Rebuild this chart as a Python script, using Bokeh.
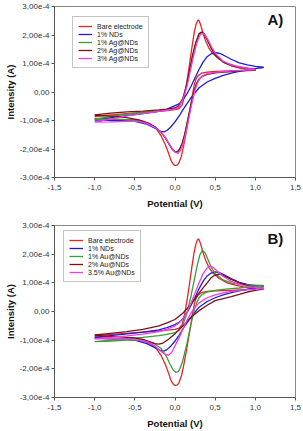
from bokeh.plotting import figure
from bokeh.layouts import column
from bokeh.models import Legend, LegendItem, FixedTicker, Label
from bokeh.embed import file_html
from bokeh.resources import INLINE

# Values of current in units of 1e-4 A, potential in V
x_ticks = [-1.5, -1.0, -0.5, 0.0, 0.5, 1.0, 1.5]
x_tick_labels = ["-1,5", "-1,0", "-0,5", "0,0", "0,5", "1,0", "1,5"]
y_ticks = [-3, -2, -1, 0, 1, 2, 3]
y_tick_labels = ["-3,00e-4", "-2,00e-4", "-1,00e-4", "0,00", "1,00e-4", "2,00e-4", "3,00e-4"]

# ---- Bare electrode (both panels) ----
bare_x = [-1.0, -0.8, -0.6, -0.4, -0.2, -0.1, 0.0, 0.05, 0.09, 0.12, 0.15, 0.18, 0.21, 0.24, 0.26, 0.28, 0.29, 0.30, 0.32, 0.35, 0.38, 0.42, 0.47, 0.55, 0.65, 0.75, 0.85, 1.0,
          1.0, 0.9, 0.8, 0.7, 0.6, 0.5, 0.4, 0.33, 0.29, 0.26, 0.24, 0.22, 0.2, 0.17, 0.14, 0.11, 0.08, 0.05, 0.03, 0.0, -0.02, -0.05, -0.08, -0.12, -0.17, -0.23, -0.3, -0.4, -0.5, -0.6, -0.8, -1.0]
bare_y = [-0.86, -0.80, -0.76, -0.72, -0.68, -0.65, -0.62, -0.58, -0.45, -0.1, 0.4, 0.95, 1.55, 2.1, 2.35, 2.5, 2.53, 2.5, 2.35, 2.05, 1.8, 1.55, 1.35, 1.15, 1.0, 0.92, 0.86, 0.8,
          0.77, 0.76, 0.75, 0.74, 0.73, 0.72, 0.7, 0.66, 0.58, 0.45, 0.25, -0.05, -0.4, -0.9, -1.4, -1.85, -2.25, -2.48, -2.56, -2.58, -2.54, -2.4, -2.15, -1.85, -1.55, -1.3, -1.13, -1.02, -0.99, -0.97, -0.95, -0.93]

# ---- 1% NDs (panel A) ----
a_nd_x = [-1.0, -0.8, -0.6, -0.4, -0.2, -0.1, 0.0, 0.05, 0.1, 0.15, 0.2, 0.25, 0.3, 0.35, 0.4, 0.45, 0.5, 0.55, 0.6, 0.7, 0.8, 0.9, 1.0, 1.1,
          1.1, 1.0, 0.9, 0.8, 0.7, 0.6, 0.5, 0.4, 0.3, 0.2, 0.1, 0.05, 0.0, -0.05, -0.1, -0.14, -0.18, -0.25, -0.35, -0.5, -0.7, -1.0]
a_nd_y = [-0.98, -0.9, -0.83, -0.76, -0.68, -0.6, -0.48, -0.42, -0.28, -0.06, 0.2, 0.5, 0.8, 1.05, 1.24, 1.34, 1.38, 1.36, 1.3, 1.15, 1.02, 0.95, 0.9, 0.87,
          0.86, 0.82, 0.78, 0.72, 0.66, 0.58, 0.48, 0.35, 0.15, -0.2, -0.62, -0.85, -1.05, -1.22, -1.35, -1.4, -1.38, -1.27, -1.13, -1.03, -1.0, -0.99]

# ---- 1% Ag@NDs (panel A) ----
a_ag1_x = [-1.0, -0.8, -0.6, -0.4, -0.2, -0.1, 0.0, 0.05, 0.1, 0.14, 0.18, 0.22, 0.26, 0.3, 0.33, 0.36, 0.4, 0.45, 0.5, 0.6, 0.7, 0.8, 0.9, 1.0,
           1.0, 0.9, 0.8, 0.7, 0.6, 0.5, 0.4, 0.34, 0.3, 0.27, 0.24, 0.21, 0.18, 0.15, 0.12, 0.09, 0.06, 0.03, 0.0, -0.03, -0.07, -0.12, -0.18, -0.25, -0.35, -0.45, -0.6, -0.8, -1.0]
a_ag1_y = [-0.95, -0.86, -0.78, -0.72, -0.66, -0.63, -0.58, -0.5, -0.22, 0.18, 0.73, 1.28, 1.73, 2.04, 2.09, 2.04, 1.84, 1.54, 1.3, 1.05, 0.93, 0.86, 0.81, 0.78,
           0.77, 0.76, 0.75, 0.73, 0.71, 0.68, 0.63, 0.56, 0.46, 0.31, 0.06, -0.3, -0.7, -1.1, -1.5, -1.8, -2.0, -2.1, -2.1, -2.02, -1.85, -1.6, -1.4, -1.22, -1.08, -1.0, -0.97, -0.96, -0.96]

# ---- 2% Ag@NDs (panel A) ----
a_ag2_x = [-1.0, -0.8, -0.6, -0.4, -0.2, -0.1, 0.0, 0.05, 0.1, 0.14, 0.18, 0.22, 0.26, 0.3, 0.33, 0.36, 0.4, 0.45, 0.5, 0.6, 0.7, 0.8, 0.9, 1.0,
           1.0, 0.9, 0.8, 0.7, 0.6, 0.5, 0.4, 0.34, 0.3, 0.27, 0.24, 0.21, 0.18, 0.15, 0.12, 0.09, 0.06, 0.03, 0.0, -0.03, -0.07, -0.12, -0.18, -0.25, -0.35, -0.45, -0.6, -0.8, -1.0]
a_ag2_y = [-0.8, -0.74, -0.7, -0.67, -0.63, -0.6, -0.56, -0.48, -0.2, 0.2, 0.75, 1.3, 1.75, 2.05, 2.1, 2.05, 1.85, 1.55, 1.3, 1.05, 0.92, 0.85, 0.8, 0.77,
           0.76, 0.75, 0.74, 0.72, 0.7, 0.67, 0.62, 0.55, 0.45, 0.3, 0.05, -0.3, -0.7, -1.1, -1.5, -1.8, -2.0, -2.1, -2.1, -2.02, -1.85, -1.6, -1.4, -1.22, -1.08, -0.98, -0.9, -0.85, -0.82]

# ---- 3% Ag@NDs (panel A) ----
a_ag3_x = [-1.0, -0.8, -0.6, -0.4, -0.2, -0.1, 0.0, 0.05, 0.1, 0.15, 0.19, 0.23, 0.27, 0.31, 0.34, 0.37, 0.41, 0.46, 0.51, 0.6, 0.7, 0.8, 0.9, 1.0,
           1.0, 0.9, 0.8, 0.7, 0.6, 0.5, 0.4, 0.35, 0.31, 0.28, 0.25, 0.22, 0.19, 0.16, 0.13, 0.1, 0.07, 0.04, 0.01, -0.02, -0.06, -0.11, -0.17, -0.25, -0.35, -0.45, -0.6, -0.8, -1.0]
a_ag3_y = [-1.05, -0.95, -0.84, -0.76, -0.68, -0.64, -0.6, -0.52, -0.25, 0.2, 0.72, 1.25, 1.7, 1.99, 2.06, 2.02, 1.84, 1.56, 1.33, 1.08, 0.95, 0.87, 0.82, 0.79,
           0.78, 0.77, 0.76, 0.74, 0.72, 0.69, 0.64, 0.57, 0.47, 0.32, 0.07, -0.28, -0.68, -1.1, -1.5, -1.82, -2.04, -2.15, -2.13, -2.04, -1.88, -1.64, -1.42, -1.24, -1.1, -1.03, -1.03, -1.05, -1.06]

# ---- 1% NDs (panel B) ----
b_nd_x = [-1.0, -0.8, -0.6, -0.4, -0.2, -0.1, 0.0, 0.05, 0.1, 0.15, 0.2, 0.25, 0.3, 0.35, 0.4, 0.45, 0.5, 0.55, 0.6, 0.7, 0.8, 0.9, 1.0, 1.1,
          1.1, 1.0, 0.9, 0.8, 0.7, 0.6, 0.5, 0.4, 0.3, 0.2, 0.1, 0.05, 0.0, -0.05, -0.1, -0.14, -0.18, -0.25, -0.35, -0.5, -0.7, -1.0]
b_nd_y = [-0.9, -0.84, -0.78, -0.72, -0.64, -0.56, -0.46, -0.38, -0.25, -0.04, 0.22, 0.5, 0.8, 1.05, 1.24, 1.34, 1.38, 1.36, 1.3, 1.15, 1.02, 0.95, 0.9, 0.87,
          0.86, 0.82, 0.78, 0.72, 0.66, 0.58, 0.48, 0.35, 0.15, -0.2, -0.6, -0.83, -1.03, -1.2, -1.33, -1.38, -1.36, -1.26, -1.12, -1.0, -0.95, -0.92]

# ---- 1% Au@NDs (panel B) ----
b_au1_x = [-1.0, -0.8, -0.6, -0.4, -0.2, -0.1, 0.0, 0.05, 0.1, 0.15, 0.2, 0.24, 0.28, 0.31, 0.34, 0.37, 0.4, 0.45, 0.5, 0.6, 0.7, 0.8, 0.9, 1.0, 1.1,
           1.1, 1.0, 0.9, 0.8, 0.7, 0.6, 0.5, 0.4, 0.34, 0.3, 0.27, 0.24, 0.21, 0.18, 0.15, 0.12, 0.09, 0.06, 0.04, 0.01, -0.02, -0.06, -0.11, -0.17, -0.25, -0.35, -0.45, -0.6, -0.8, -1.0]
b_au1_y = [-1.05, -1.0, -0.95, -0.9, -0.84, -0.8, -0.74, -0.65, -0.45, -0.05, 0.55, 1.1, 1.65, 1.98, 2.13, 2.07, 1.88, 1.55, 1.32, 1.1, 1.0, 0.95, 0.93, 0.92, 0.91,
           0.89, 0.87, 0.85, 0.82, 0.8, 0.77, 0.74, 0.68, 0.6, 0.48, 0.3, 0.05, -0.3, -0.7, -1.1, -1.45, -1.78, -2.0, -2.1, -2.12, -2.05, -1.85, -1.55, -1.3, -1.13, -1.03, -0.99, -1.0, -1.03, -1.05]

# ---- 2% Au@NDs (panel B) ----
b_au2_x = [-1.0, -0.8, -0.6, -0.4, -0.2, -0.1, 0.0, 0.1, 0.2, 0.3, 0.4, 0.45, 0.5, 0.55, 0.6, 0.7, 0.8, 0.9, 1.0, 1.1,
           1.1, 1.0, 0.9, 0.8, 0.7, 0.6, 0.5, 0.4, 0.3, 0.2, 0.1, 0.0, -0.08, -0.15, -0.2, -0.25, -0.32, -0.4, -0.5, -0.6, -0.8, -1.0]
b_au2_y = [-0.82, -0.76, -0.7, -0.62, -0.5, -0.4, -0.28, -0.05, 0.25, 0.65, 1.0, 1.18, 1.28, 1.3, 1.26, 1.12, 1.0, 0.9, 0.84, 0.8,
           0.78, 0.74, 0.68, 0.6, 0.52, 0.45, 0.38, 0.22, 0.03, -0.2, -0.5, -0.78, -0.97, -1.1, -1.14, -1.12, -1.05, -0.97, -0.92, -0.9, -0.87, -0.84]

# ---- 3.5% Au@NDs (panel B) ----
b_au35_x = [-1.0, -0.8, -0.6, -0.4, -0.2, -0.1, 0.0, 0.05, 0.1, 0.15, 0.2, 0.25, 0.3, 0.35, 0.4, 0.43, 0.47, 0.52, 0.6, 0.7, 0.8, 0.9, 1.0, 1.1,
            1.1, 1.0, 0.9, 0.8, 0.7, 0.6, 0.5, 0.4, 0.3, 0.25, 0.2, 0.15, 0.1, 0.05, 0.0, -0.04, -0.08, -0.12, -0.17, -0.25, -0.35, -0.5, -0.7, -1.0]
b_au35_y = [-0.95, -0.9, -0.85, -0.79, -0.7, -0.62, -0.5, -0.4, -0.25, -0.02, 0.3, 0.65, 1.0, 1.32, 1.52, 1.58, 1.55, 1.42, 1.22, 1.05, 0.95, 0.88, 0.84, 0.82,
            0.8, 0.78, 0.76, 0.73, 0.7, 0.65, 0.58, 0.48, 0.3, 0.15, -0.05, -0.3, -0.6, -0.92, -1.2, -1.42, -1.53, -1.5, -1.4, -1.2, -1.05, -0.97, -0.95, -0.95]

labels_a = ["Bare electrode", "1% NDs", "1% Ag@NDs", "2% Ag@NDs", "3% Ag@NDs"]
labels_b = ["Bare electrode", "1% NDs", "1% Au@NDs", "2% Au@NDs", "3.5% Au@NDs"]
colors = ["#ee2020", "#1c1cd8", "#35a035", "#7a1212", "#ee3cee"]

FONT = "Liberation Sans"


def make_panel(series, labels, tag, height, border_top, border_bottom, leg_x, leg_y):
    p = figure(width=303, height=height, output_backend="svg", toolbar_location=None,
               x_range=(-1.5, 1.5), y_range=(-3, 3),
               min_border_left=54, min_border_right=8,
               min_border_top=border_top, min_border_bottom=border_bottom)
    p.background_fill_color = "white"
    p.border_fill_color = "white"
    p.outline_line_color = "#8a8a8a"
    p.outline_line_width = 1
    p.xgrid.visible = False
    p.ygrid.visible = False

    items = []
    for (xs, ys), lab, col in zip(series, labels, colors):
        r = p.line(xs, ys, line_color=col, line_width=1.3)
        items.append(LegendItem(label=lab, renderers=[r]))

    leg = Legend(items=items, location=(leg_x, leg_y))
    leg.label_text_font = FONT
    leg.label_text_font_size = "7px"
    leg.label_text_color = "#222222"
    leg.glyph_width = 14
    leg.glyph_height = 8
    leg.label_height = 8
    leg.label_standoff = 5
    leg.spacing = 0
    leg.padding = 5
    leg.margin = 0
    leg.border_line_color = "#8a8a8a"
    leg.border_line_width = 1
    leg.background_fill_alpha = 1
    p.add_layout(leg, "center")

    for ax in (p.xaxis[0], p.yaxis[0]):
        ax.major_label_text_font = FONT
        ax.major_label_text_font_size = "8px"
        ax.major_label_text_color = "#333333"
        ax.axis_label_text_font = FONT
        ax.axis_label_text_font_size = "9.5px"
        ax.axis_label_text_font_style = "bold"
        ax.axis_label_text_color = "#111111"
        ax.minor_tick_line_color = None
        ax.major_tick_out = 3
        ax.major_tick_in = 0
        ax.axis_line_color = "#555555"
        ax.major_tick_line_color = "#555555"
        ax.major_label_standoff = 2

    p.xaxis.ticker = FixedTicker(ticks=x_ticks)
    p.xaxis.major_label_overrides = {t: s for t, s in zip(x_ticks, x_tick_labels)}
    p.yaxis.ticker = FixedTicker(ticks=y_ticks)
    p.yaxis.major_label_overrides = {t: s for t, s in zip(y_ticks, y_tick_labels)}
    p.xaxis.axis_label = "Potential (V)"
    p.yaxis.axis_label = "Intensity (A)"
    p.xaxis.major_label_standoff = 4
    p.xaxis.axis_label_standoff = 5
    p.yaxis.axis_label_standoff = 1

    p.add_layout(Label(x=1.25, y=2.56, text=tag, text_font=FONT, text_font_size="15px",
                       text_font_style="bold", text_align="center", text_baseline="middle",
                       text_color="#111111"))
    return p


series_a = [(bare_x, bare_y), (a_nd_x, a_nd_y), (a_ag1_x, a_ag1_y), (a_ag2_x, a_ag2_y), (a_ag3_x, a_ag3_y)]
series_b = [(bare_x, bare_y), (b_nd_x, b_nd_y), (b_au1_x, b_au1_y), (b_au2_x, b_au2_y), (b_au35_x, b_au35_y)]

pa = make_panel(series_a, labels_a, "A)", 215, 6, 38, 18, 109)
pb = make_panel(series_b, labels_b, "B)", 216, 10, 34, 9, 115)

layout = column(pa, pb, spacing=0)
open("out.html", "w").write(file_html(layout, INLINE))
